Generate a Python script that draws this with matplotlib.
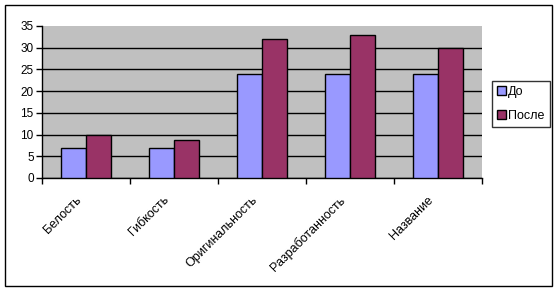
import numpy as np
import matplotlib
matplotlib.use("Agg")
import matplotlib.pyplot as plt
from matplotlib.patches import Rectangle
from matplotlib.transforms import ScaledTranslation

categories = ["Белость", "Гибкость", "Оригинальность", "Разработанность", "Название"]
before = [7, 7, 24, 24, 24]
after = [10, 8.7, 32, 33, 30]
series_names = ["До", "После"]
y_ticks = [0, 5, 10, 15, 20, 25, 30, 35]

plt.rcParams["font.family"] = ["Liberation Sans", "DejaVu Sans"]

W, H = 559, 292
fig = plt.figure(figsize=(W / 100, H / 100), dpi=100)
fig.patch.set_facecolor("white")

# outer chart border
fig.patches.append(Rectangle((5 / W, 1 - 286 / H), 547 / W, 281 / H,
                             transform=fig.transFigure, fill=False,
                             edgecolor="black", linewidth=1))

ax = fig.add_axes([42 / W, 1 - 178 / H, 440 / W, 152 / H])
ax.set_facecolor("#C0C0C0")

x = np.arange(len(categories))
bw = 0.284
b1 = ax.bar(x - bw / 2, before, bw, color="#9999FF", edgecolor="black",
            linewidth=1, label=series_names[0], zorder=3)
b2 = ax.bar(x + bw / 2, after, bw, color="#993366", edgecolor="black",
            linewidth=1, label=series_names[1], zorder=3)

ax.set_xlim(-0.5, len(categories) - 0.5)
ax.set_ylim(0, 35)
ax.set_yticks(y_ticks)
ax.tick_params(axis="y", length=4, width=1, labelsize=8.5, pad=2)
ax.yaxis.grid(True, color="black", linewidth=1, zorder=1)
ax.set_axisbelow(True)
ax.get_ygridlines()[-1].set_visible(False)

ax.set_xticks(x)
ax.set_xticklabels(categories, rotation=45, ha="right", rotation_mode="anchor",
                   fontsize=9)
ax.tick_params(axis="x", which="major", length=0, pad=12)
shift = ScaledTranslation(-0.11, 0.01, fig.dpi_scale_trans)
for lbl in ax.get_xticklabels():
    lbl.set_transform(lbl.get_transform() + shift)
ax.set_xticks(np.arange(-0.5, len(categories)), minor=True)
ax.tick_params(axis="x", which="minor", length=4, width=1)

for s in ["top", "right"]:
    ax.spines[s].set_visible(False)
for s in ["left", "bottom"]:
    ax.spines[s].set_color("black")
    ax.spines[s].set_linewidth(1)

leg = fig.legend(handles=[b1, b2], loc="upper left",
                 bbox_to_anchor=(492 / W, 1 - 81 / H), fontsize=9,
                 frameon=True, fancybox=False, handlelength=0.7,
                 handleheight=0.7, handletextpad=0.2, borderpad=0.4,
                 labelspacing=0.95, borderaxespad=0)
leg.get_frame().set_edgecolor("black")
leg.get_frame().set_linewidth(1)

fig.savefig("out.png", dpi=100)
